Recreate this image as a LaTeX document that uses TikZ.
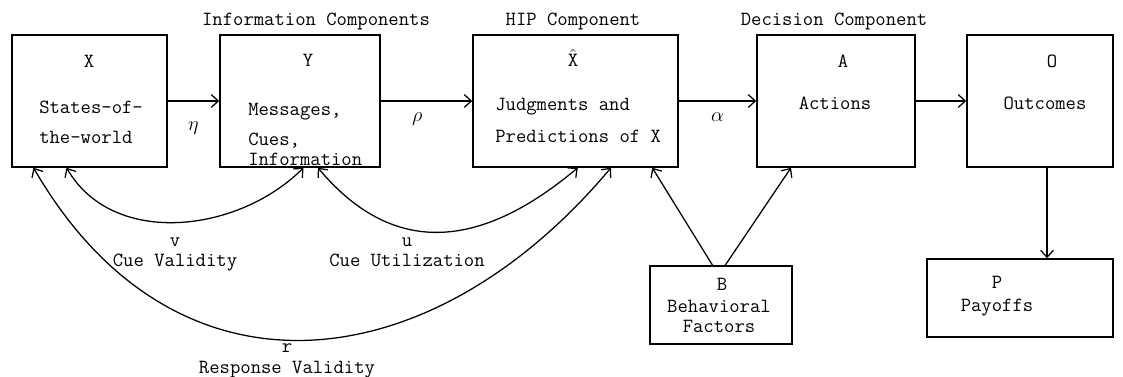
\documentclass[tikz,border=0pt]{standalone}
\usetikzlibrary{positioning,arrows.meta}
\tikzset{
  box/.style={draw, line width=1pt, minimum height=3.3cm, inner sep=0pt},
  txt/.style={font=\fontsize{14.3}{17}\selectfont\ttfamily, inner sep=0pt},
  lines/.style={txt, align=left, anchor=north west},
  lnk/.style={line width=0.9pt, -{Straight Barb[length=5pt,width=9pt]}},
  dbl/.style={line width=0.9pt, {Straight Barb[length=5pt,width=9pt]}-{Straight Barb[length=5pt,width=9pt]}},
}
\begin{document}
\begin{tikzpicture}[x=0.025cm,y=0.025cm]
\useasboundingbox (0,0) rectangle (1123,376);
% boxes
\node[box, minimum width=3.875cm] (X) at (89.5,275) {};
\node[box, minimum width=4cm] (Y) at (300,275) {};
\node[box, minimum width=5.125cm] (Xh) at (575.5,275) {};
\node[box, minimum width=3.95cm] (A) at (836,275) {};
\node[box, minimum width=3.65cm] (O) at (1040,275) {};
\node[box, minimum width=3.55cm, minimum height=1.95cm] (B) at (721,71) {};
\node[box, minimum width=4.65cm, minimum height=1.95cm] (P) at (1020,78) {};

% box texts
\node[txt, anchor=base] (Xl) at (89,308) {X};
\node[lines] (Xd) at (39,275) {States-of-\\[4.4pt]the-world};
\node[txt, anchor=base] (Yl) at (308,309) {Y};
\node[lines] (Yd) at (248,273) {Messages,\\[4.4pt]Cues,\\[-2.8pt]Information};
\node[txt, anchor=base] (Xhl) at (573,309) {$\hat{\mathtt{X}}$};
\node[lines] (Xhd) at (495,278) {Judgments and\\[5.8pt]Predictions of X};
\node[txt, anchor=base] (Al) at (843,308) {A};
\node[txt, anchor=base] (Ad) at (835,266) {Actions};
\node[txt, anchor=base] (Ol) at (1052,308) {O};
\node[txt, anchor=base] (Od) at (1045,266) {Outcomes};
\node[txt, anchor=base] (Bl) at (722,86) {B};
\node[txt, align=center, anchor=north] (Bd) at (719,76) {Behavioral\\[-2.8pt]Factors};
\node[txt, anchor=base] (Pl) at (997,88) {P};
\node[txt, anchor=base] (Pd) at (997,65) {Payoffs};

% headings
\node[txt, anchor=base] (hinfo) at (316,350) {Information Components};
\node[txt, anchor=base] (hhip) at (573,350) {HIP Component};
\node[txt, anchor=base] (hdec) at (834,350) {Decision Component};

% flow
\draw[lnk] (X) -- (Y) node[txt, midway, below=0.5cm] (eta) {$\eta$};
\draw[lnk] (Y) -- (Xh) node[txt, pos=0.4, below=0.28cm] (rho) {$\rho$};
\draw[lnk] (Xh) -- (A) node[txt, midway, below=0.28cm] (alp) {$\alpha$};
\draw[lnk] (A) -- (O);
\coordinate (Oo) at ([xshift=0.175cm]O.south);
\draw[lnk] (Oo) -- (Oo |- P.north);

% behavioral factors
\draw[lnk] (B.102) -- (Xh.-41);
\draw[lnk] (B.84) -- (A.-124);

% lens arcs
\draw[dbl] (X.-109) to[out=-60, in=-135] (Y.-87);
\draw[dbl] (Y.-75) to[out=-50, in=-140, looseness=1.2] (Xh.-88);
\draw[dbl] (X.-130) to[out=-60, in=-130, looseness=1.25] (Xh.-62);
\node[txt, align=center, anchor=north] (vlab) at (175,138) {v\\[-2.8pt]Cue Validity};
\node[txt, align=center, anchor=north] (ulab) at (407,138) {u\\[-2.8pt]Cue Utilization};
\node[txt, align=center, anchor=north] (rlab) at (287,33) {r\\[-2pt]Response Validity};
\end{tikzpicture}
\end{document}
